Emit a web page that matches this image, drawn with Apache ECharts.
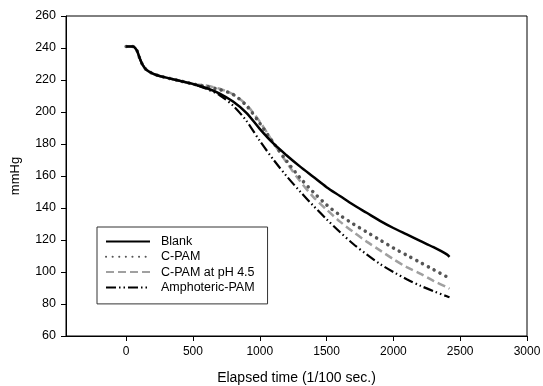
<!DOCTYPE html>
<html><head><meta charset="utf-8">
<script src="https://cdn.jsdelivr.net/npm/echarts@6/dist/echarts.min.js"></script>
<style>html,body{margin:0;padding:0;background:#fff}#c{width:543px;height:386px}</style>
</head><body><div id="c"></div>
<script>
var seriesNames = ['Blank', 'C-PAM', 'C-PAM at pH 4.5', 'Amphoteric-PAM'];
var xTicks = [0, 500, 1000, 1500, 2000, 2500, 3000];
var commonX = [0, 50, 80, 100, 120, 150, 200, 250, 300, 400, 500];
var commonY = [241, 241, 238.5, 234, 230, 226.5, 224, 222.5, 221.5, 219.5, 217.5];
var laterX = [600, 700, 800, 900, 1000, 1100, 1200, 1300, 1400, 1500, 1600, 1700, 1800, 1900, 2000, 2100, 2200, 2300, 2400, 2420];
var blankY = [215, 211.5, 206.5, 199.5, 189.5, 180.5, 173, 166, 159.5, 153, 147.5, 142, 137, 132, 127.5, 123.5, 119.5, 115.5, 111, 109.5];
var cpamY = [216, 214, 211, 204, 193, 181, 169.5, 159, 150, 142, 135.5, 130, 125, 120, 115, 110.5, 106, 101.5, 97, 96];
var ph45Y = [216.5, 214.5, 211, 204.5, 194, 181, 168.5, 157, 147, 139, 131.5, 125, 119, 113.5, 108, 103, 99, 94.5, 90.5, 89.5];
var amphY = [214.5, 210.5, 204, 194.5, 182, 170.5, 160, 150.5, 141.5, 133, 125, 117.5, 111, 105, 100, 95.5, 91.5, 88, 84.8, 84.2];

function build(ys) {
  var out = [];
  for (var i = 0; i < commonX.length; i++) out.push([commonX[i], commonY[i]]);
  for (var j = 0; j < laterX.length; j++) out.push([laterX[j], ys[j]]);
  return out;
}
var styles = [
  {color: '#000000', width: 2.5, type: 'solid', cap: 'butt'},
  {color: '#555555', width: 3.5, type: [0.1, 6.5], cap: 'round'},
  {color: '#a0a0a0', width: 2.5, type: [8, 4], cap: 'butt'},
  {color: '#000000', width: 2.2, type: [10, 3, 1.5, 3, 1.5, 3], cap: 'butt'}
];
var dataSets = [blankY, cpamY, ph45Y, amphY];
var series = seriesNames.map(function (n, i) {
  return {
    name: n, type: 'line', data: build(dataSets[i]), showSymbol: false, symbol: 'none',
    smooth: 0.3, color: styles[i].color, z: 10 - i,
    lineStyle: styles[i]
  };
});
var font = 'Liberation Sans, Arial, sans-serif';
var chart = echarts.init(document.getElementById('c'), null, {renderer: 'canvas'});
chart.setOption({
  animation: false,
  backgroundColor: '#fff',
  grid: {left: 66, right: 16, top: 16, bottom: 50, show: true, borderColor: '#000', borderWidth: 1,
    backgroundColor: 'transparent', outerBoundsMode: 'none', containLabel: false},
  legend: {
    orient: 'vertical', left: 97, top: 227, itemWidth: 44, itemHeight: 14, itemGap: 2.3,
    padding: [8, 13, 10, 8], borderColor: '#333', borderWidth: 1, backgroundColor: '#fff',
    itemStyle: {opacity: 0, borderWidth: 0},
    textStyle: {fontFamily: font, fontSize: 12.5, color: '#000', padding: [0, 0, 0, 6]},
    data: seriesNames
  },
  xAxis: {
    type: 'value', min: -450, max: 3000,
    name: 'Elapsed time (1/100 sec.)', nameLocation: 'middle', nameGap: 35,
    nameTextStyle: {fontFamily: font, fontSize: 14, color: '#000'},
    axisLine: {show: true, onZero: false, lineStyle: {color: '#000', width: 1}},
    axisTick: {show: true, length: 5, lineStyle: {color: '#000'}, customValues: xTicks},
    axisLabel: {fontFamily: font, fontSize: 12, color: '#000', margin: 10, customValues: xTicks,
      formatter: function (v) { return String(v); }},
    splitLine: {show: false}
  },
  yAxis: {
    type: 'value', min: 60, max: 260, interval: 20,
    name: 'mmHg', nameLocation: 'middle', nameGap: 44,
    nameTextStyle: {fontFamily: font, fontSize: 13, color: '#000'},
    axisLine: {show: true, onZero: false, lineStyle: {color: '#000', width: 1}},
    axisTick: {show: true, length: 5, lineStyle: {color: '#000'}},
    axisLabel: {fontFamily: font, fontSize: 12.5, color: '#000', margin: 10},
    splitLine: {show: false}
  },
  series: series
});
</script></body></html>
